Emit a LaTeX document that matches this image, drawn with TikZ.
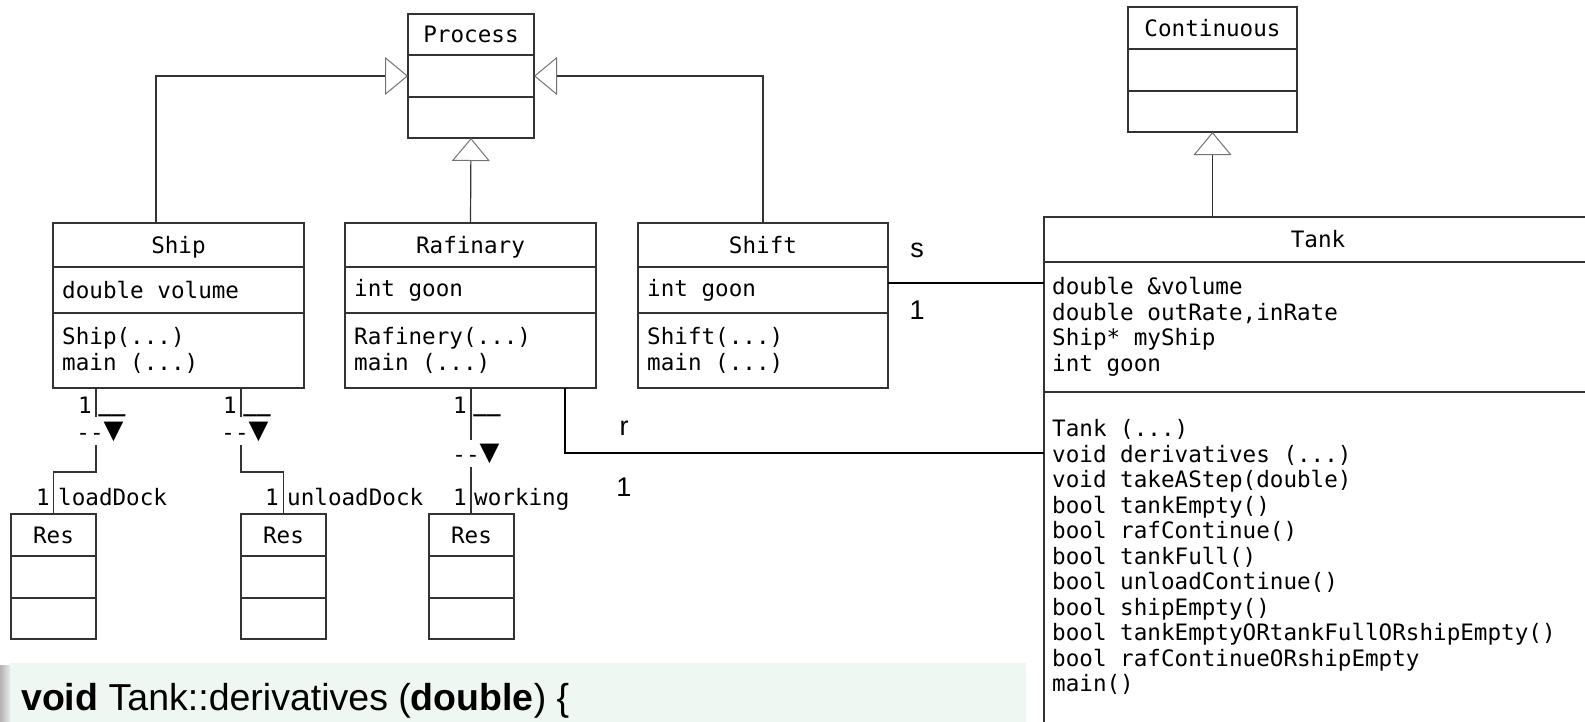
\documentclass[tikz,border=0pt]{standalone}
\usepackage{fontspec}
\setmonofont{DejaVu Sans Mono}
\setsansfont{Liberation Sans}
\usetikzlibrary{arrows.meta}
\usetikzlibrary{positioning}

\definecolor{umlline}{RGB}{51,51,51}
\definecolor{codebg}{RGB}{238,247,241}

\newcommand{\umlfont}{\ttfamily\fontsize{22.6pt}{25.5pt}\selectfont}
\newcommand{\navdown}{-{}-{\fontsize{33pt}{33pt}\selectfont ▼}}

% a class box with two dividers: name, x, y, width, divider 1, divider 2, height
\newcommand{\umlclass}[7]{%
  \node[classbox, minimum width=#4pt, minimum height=#7pt, anchor=north west] (#1) at (#2,#3) {};
  \draw[classline] ([yshift=-#5pt]#1.north west) -- ([yshift=-#5pt]#1.north east);
  \draw[classline] ([yshift=-#6pt]#1.north west) -- ([yshift=-#6pt]#1.north east);
}

\tikzset{
  classbox/.style={draw=umlline, line width=1.3pt, inner sep=0pt, outer sep=0pt, fill=white},
  classline/.style={draw=umlline, line width=1.3pt},
  classtitle/.style={font=\umlfont, inner sep=0pt, text height=16.5pt, text depth=0pt},
  members/.style={font=\umlfont, align=left, inner sep=0pt, anchor=west},
  inherit/.style={draw=umlline, line width=1.2pt,
    -{Triangle[open, length=23pt, width=38pt, line width=1pt, color=black!55]}},
  assoc/.style={draw=black, line width=2pt},
  stub/.style={draw=umlline, line width=1.3pt},
  mult/.style={font=\umlfont, inner sep=0pt},
  role/.style={font=\sffamily\fontsize{27pt}{30pt}\selectfont, inner sep=0pt},
  codebox/.style={fill=codebg, inner sep=0pt, outer sep=0pt},
  codetext/.style={font=\sffamily\fontsize{37.5pt}{40pt}\selectfont, inner sep=0pt},
}

\begin{document}
\begin{tikzpicture}[x=1pt, y=-1pt]
\useasboundingbox (0,0) rectangle (1585,721);
\clip (0,0) rectangle (1585,721);

% classes
\umlclass{process}{408}{14}{126}{41}{83}{124}
\umlclass{continuous}{1128}{7}{169}{42}{84}{125}
\umlclass{ship}{53}{223}{251}{44}{90}{165}
\umlclass{rafinary}{345}{223}{251}{44}{90}{165}
\umlclass{shift}{638}{223}{250}{44}{90}{165}
\umlclass{tank}{1044}{217}{548}{45}{175}{540}
\umlclass{res1}{11}{514}{85}{42}{84}{125}
\umlclass{res2}{241}{514}{85}{42}{84}{125}
\umlclass{res3}{429}{514}{85}{42}{84}{125}

\node[classtitle] (process-t) at ([yshift=-20.5pt]process.north) {Process};
\node[classtitle] (continuous-t) at ([yshift=-21pt]continuous.north) {Continuous};
\node[classtitle] (ship-t) at ([yshift=-22pt]ship.north) {Ship};
\node[classtitle] (rafinary-t) at ([yshift=-22pt]rafinary.north) {Rafinary};
\node[classtitle] (shift-t) at ([yshift=-22pt]shift.north) {Shift};
\node[classtitle] (tank-t) at ([yshift=-22.5pt]tank.north) {Tank};
\node[classtitle] (res1-t) at ([yshift=-21pt]res1.north) {Res};
\node[classtitle] (res2-t) at ([yshift=-21pt]res2.north) {Res};
\node[classtitle] (res3-t) at ([yshift=-21pt]res3.north) {Res};

% members
\node[members] (ship-a) at ([xshift=9pt,yshift=-67pt]ship.north west) {double volume};
\node[members] (ship-o) at ([xshift=9pt,yshift=-127.5pt]ship.north west) {Ship(...)\\main (...)};
\node[members] (rafinary-a) at ([xshift=9pt,yshift=-67pt]rafinary.north west) {int goon};
\node[members] (rafinary-o) at ([xshift=9pt,yshift=-127.5pt]rafinary.north west) {Rafinery(...)\\main (...)};
\node[members] (shift-a) at ([xshift=9pt,yshift=-67pt]shift.north west) {int goon};
\node[members] (shift-o) at ([xshift=9pt,yshift=-127.5pt]shift.north west) {Shift(...)\\main (...)};
\node[members] (tank-a) at ([xshift=8pt,yshift=-110pt]tank.north west)
  {double \&volume\\double outRate,inRate\\Ship* myShip\\int goon};
\node[members] (tank-o) at ([xshift=8pt,yshift=-340pt]tank.north west)
  {Tank (...)\\void derivatives (...)\\void takeAStep(double)\\bool tankEmpty()\\
   bool rafContinue()\\bool tankFull()\\bool unloadContinue()\\bool shipEmpty()\\
   bool tankEmptyORtankFullORshipEmpty()\\bool rafContinueORshipEmpty\\main()};

% inheritance
\draw[inherit] ([xshift=103pt]ship.north west) |- (process.west);
\draw[inherit] (rafinary.north) -- (process.south);
\draw[inherit] (shift.north) |- (process.east);
\draw[inherit] (tank.north -| continuous.south) -- (continuous.south);

% associations to Tank
\coordinate (sjoin) at ([yshift=23pt]shift.east);
\draw[assoc] (sjoin) -- (sjoin -| tank.west);
\node[role] (s-name) at (917,250) {s};
\node[role] (s-mult) at (917,310) {1};

\coordinate (rjoin) at (565,453);
\draw[assoc] (rafinary.south -| rjoin) -- (rjoin) -- (rjoin -| tank.west);
\node[role] (r-name) at (624,428) {r};
\node[role] (r-mult) at (624,487) {1};

% associations to Res
\coordinate (ship-res1) at (96,445);
\coordinate (ship-res2) at (241,445);
\coordinate (raf-res3) at (471,467);
\draw[stub] (ship.south -| res1.east) -- ++(0,29);
\draw[stub] (ship-res1) -- ++(0,27) -| (res1.north);
\draw[stub] (ship.south -| res2.west) -- ++(0,29);
\draw[stub] (ship-res2) -- ++(0,27) -| (res2.north);
\draw[stub] (rafinary.south -| raf-res3) -- ++(0,52);
\draw[stub] (raf-res3) -- (raf-res3 |- res3.north);

\node[mult] (m1) at (85,405) {1};
\node[mult, anchor=base, font=\umlfont\bfseries] (u1) at (112,411) {\_\_};
\node[mult, anchor=base] (d1) at (100,440) {\navdown};
\node[mult] (m2) at (230,405) {1};
\node[mult, anchor=base, font=\umlfont\bfseries] (u2) at (257,411) {\_\_};
\node[mult, anchor=base] (d2) at (245,440) {\navdown};
\node[mult] (m3) at (460,405) {1};
\node[mult, anchor=base, font=\umlfont\bfseries] (u3) at (487,411) {\_\_};
\node[mult, anchor=base] (d3) at (476,462) {\navdown};

\node[mult, anchor=base] (n1) at (43,505) {1};
\node[mult, anchor=base west] (loaddock) at (58,505) {loadDock};
\node[mult, anchor=base] (n2) at (272,505) {1};
\node[mult, anchor=base west] (unloaddock) at (287,505) {unloadDock};
\node[mult, anchor=base] (n3) at (460,505) {1};
\node[mult, anchor=base west] (working) at (474,505) {working};

% code line
\node[codebox, minimum width=1016pt, minimum height=70pt, anchor=north west] (code) at (10,663) {};
\node[codetext, anchor=base west] (code-t) at (21,710)
  {\textbf{void} Tank::derivatives (\textbf{double}) \{};
\shade[left color=black!30, right color=black!8] (0,665) rectangle (10,721);
\end{tikzpicture}
\end{document}
